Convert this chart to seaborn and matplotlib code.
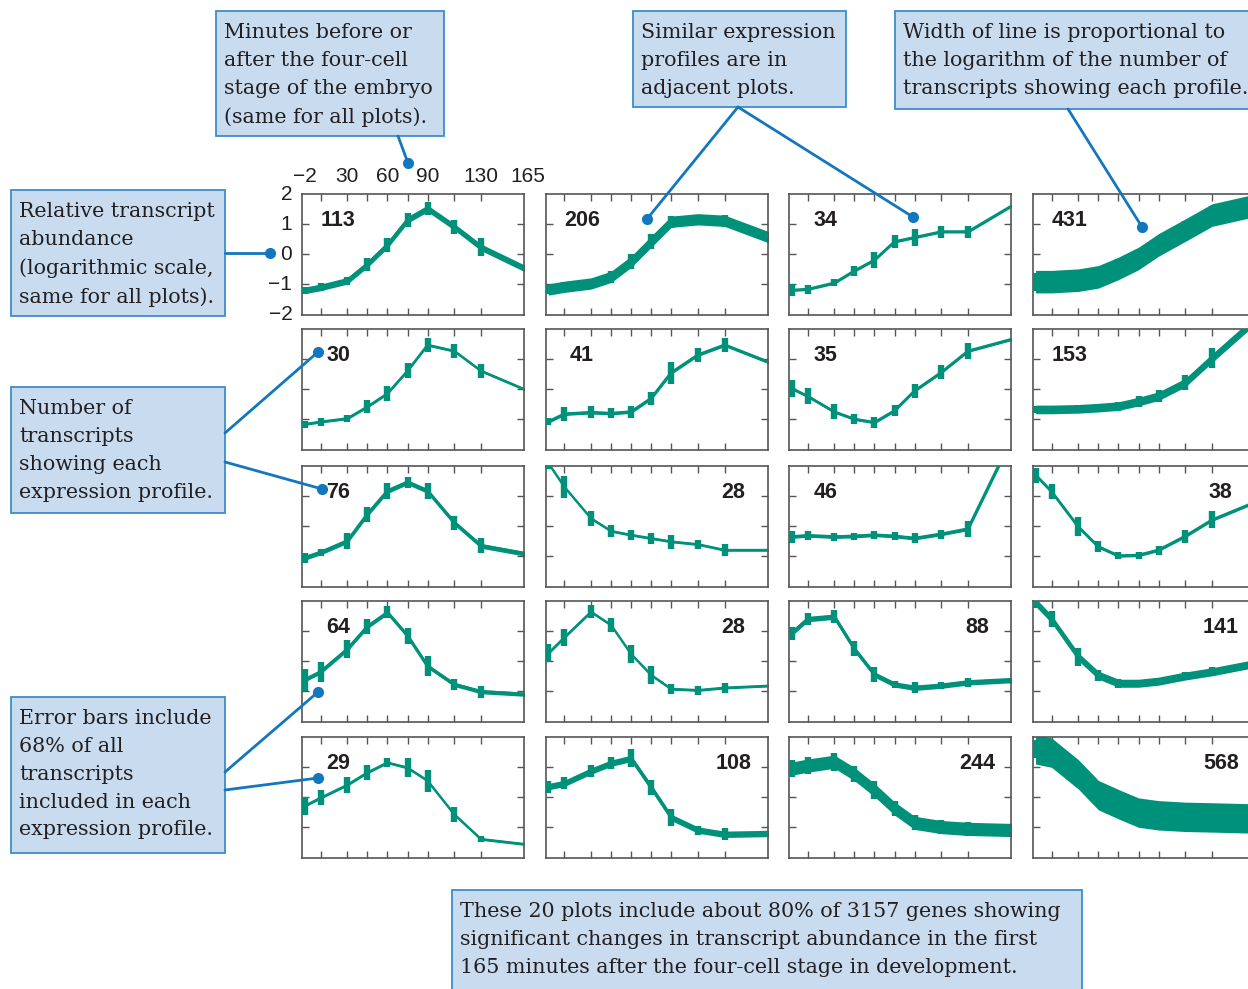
import matplotlib.pyplot as plt
import numpy as np
import pandas as pd
import seaborn as sns
from matplotlib.lines import Line2D
from matplotlib.patches import Rectangle
from matplotlib.transforms import blended_transform_factory

sns.set_theme(style="ticks")
plt.rcParams["font.family"] = ["Liberation Sans", "DejaVu Sans"]

teal = "#00917B"
box_fill = "#C8DBEF"
box_edge = "#3C8DCB"
pointer = "#1277BF"
ink = "#231F20"
frame = "#555555"
W, H = 1248, 989

# time axis (minutes relative to the four-cell stage)
minutes = [-2, 10, 30, 45, 60, 75, 90, 110, 130, 165]
inner_ticks = [10, 30, 45, 60, 75, 90, 110, 130]
top_ticks = [-2, 30, 60, 90, 130, 165]
top_labels = ["\u22122", "30", "60", "90", "130", "165"]
y_ticks = [2, 1, 0, -1, -2]
y_labels = ["2", "1", "0", "\u22121", "\u22122"]

# mean profile (log scale) and half error bar for each of the 20 clusters
p113 = [-1.20, -1.10, -0.88, -0.33, 0.31, 1.14, 1.52, 0.91, 0.23, -0.52]
e113 = [0.12, 0.13, 0.14, 0.22, 0.24, 0.22, 0.22, 0.23, 0.30, 0.30]
p206 = [-1.17, -1.08, -0.97, -0.75, -0.25, 0.42, 1.08, 1.16, 1.11, 0.53]
e206 = [0.15, 0.15, 0.15, 0.20, 0.25, 0.25, 0.20, 0.15, 0.20, 0.25]
p34 = [-1.19, -1.16, -0.95, -0.55, -0.19, 0.42, 0.56, 0.75, 0.75, 1.67]
e34 = [0.20, 0.15, 0.12, 0.17, 0.25, 0.22, 0.27, 0.20, 0.20, 0.25]
p431 = [-0.91, -0.91, -0.86, -0.75, -0.47, -0.14, 0.31, 0.80, 1.30, 1.65]
e431 = [0.30, 0.30, 0.30, 0.30, 0.30, 0.30, 0.30, 0.30, 0.30, 0.30]

p30 = [-1.16, -1.08, -0.97, -0.58, -0.14, 0.61, 1.47, 1.27, 0.61, -0.05]
e30 = [0.12, 0.13, 0.11, 0.22, 0.26, 0.25, 0.22, 0.22, 0.24, 0.33]
p41 = [-1.08, -0.82, -0.77, -0.80, -0.75, -0.30, 0.55, 1.14, 1.47, 0.86]
e41 = [0.12, 0.22, 0.20, 0.17, 0.20, 0.22, 0.36, 0.24, 0.22, 0.26]
p35 = [0.03, -0.23, -0.75, -0.99, -1.10, -0.71, -0.05, 0.56, 1.27, 1.69]
e35 = [0.28, 0.26, 0.25, 0.17, 0.17, 0.19, 0.24, 0.23, 0.25, 0.25]
p153 = [-0.67, -0.67, -0.65, -0.61, -0.56, -0.41, -0.23, 0.22, 1.03, 2.40]
e153 = [0.13, 0.13, 0.13, 0.13, 0.15, 0.17, 0.20, 0.25, 0.33, 0.30]

p76 = [-1.05, -0.87, -0.49, 0.40, 1.17, 1.46, 1.17, 0.12, -0.65, -0.93]
e76 = [0.17, 0.12, 0.26, 0.25, 0.26, 0.18, 0.28, 0.23, 0.25, 0.15]
p28a = [2.10, 1.31, 0.26, -0.16, -0.29, -0.40, -0.51, -0.60, -0.79, -0.79]
e28a = [0.20, 0.37, 0.26, 0.20, 0.18, 0.18, 0.23, 0.15, 0.20, 0.20]
p46 = [-0.35, -0.31, -0.35, -0.33, -0.29, -0.33, -0.40, -0.26, -0.09, 3.10]
e46 = [0.20, 0.15, 0.13, 0.12, 0.13, 0.13, 0.17, 0.15, 0.28, 0.20]
p38 = [1.70, 1.15, -0.02, -0.68, -0.98, -0.96, -0.79, -0.33, 0.21, 0.85]
e38 = [0.25, 0.26, 0.32, 0.19, 0.12, 0.12, 0.15, 0.22, 0.28, 0.20]

p64 = [-0.62, -0.35, 0.40, 1.15, 1.62, 0.85, -0.16, -0.77, -1.01, -1.10]
e64 = [0.36, 0.33, 0.29, 0.25, 0.20, 0.27, 0.33, 0.17, 0.20, 0.24]
p28b = [0.26, 0.79, 1.64, 1.20, 0.24, -0.46, -0.92, -0.96, -0.88, -0.81]
e28b = [0.30, 0.27, 0.22, 0.22, 0.30, 0.29, 0.18, 0.15, 0.17, 0.20]
p88 = [0.93, 1.40, 1.48, 0.41, -0.44, -0.77, -0.88, -0.81, -0.70, -0.62]
e88 = [0.22, 0.20, 0.22, 0.25, 0.25, 0.13, 0.18, 0.12, 0.15, 0.25]
p141 = [1.96, 1.40, 0.15, -0.46, -0.73, -0.73, -0.66, -0.49, -0.35, -0.05]
e141 = [0.20, 0.26, 0.30, 0.18, 0.15, 0.12, 0.12, 0.13, 0.15, 0.15]

p29 = [-0.29, -0.02, 0.41, 0.82, 1.15, 0.98, 0.55, -0.57, -1.39, -1.57]
e29 = [0.30, 0.25, 0.27, 0.25, 0.15, 0.32, 0.36, 0.24, 0.10, 0.10]
p108 = [0.35, 0.46, 0.87, 1.13, 1.29, 0.33, -0.67, -1.09, -1.23, -1.20]
e108 = [0.20, 0.20, 0.20, 0.20, 0.30, 0.25, 0.29, 0.15, 0.20, 0.20]
p244 = [0.95, 1.05, 1.18, 0.77, 0.24, -0.37, -0.85, -0.99, -1.05, -1.09]
e244 = [0.28, 0.28, 0.30, 0.28, 0.30, 0.25, 0.25, 0.22, 0.22, 0.22]
p568 = [1.59, 1.48, 0.76, 0.07, -0.23, -0.51, -0.60, -0.65, -0.67, -0.71]
e568 = [0.30, 0.30, 0.30, 0.30, 0.30, 0.30, 0.30, 0.30, 0.30, 0.30]

counts = [[113, 206, 34, 431], [30, 41, 35, 153], [76, 28, 46, 38],
          [64, 28, 88, 141], [29, 108, 244, 568]]
profiles = [[p113, p206, p34, p431], [p30, p41, p35, p153], [p76, p28a, p46, p38],
            [p64, p28b, p88, p141], [p29, p108, p244, p568]]
errors = [[e113, e206, e34, e431], [e30, e41, e35, e153], [e76, e28a, e46, e38],
          [e64, e28b, e88, e141], [e29, e108, e244, e568]]
label_side = [["l", "l", "l", "l"], ["l", "l", "l", "l"], ["l", "r", "l", "r"],
              ["l", "r", "r", "r"], ["l", "r", "r", "r"]]

col_left = [302.3, 546, 789.3, 1033.3]
row_top = [194, 329, 466, 601, 737]
panel_w, panel_h = 221.5, 120.5
ppu = panel_h / 4  # pixels per log unit


def fx(x):
    return x / W


def fy(y):
    return 1 - y / H


def draw_panel(ax, values, errs, n, side):
    values = np.asarray(values)
    width_px = 1.0 + 0.05 * n
    half = width_px / 2 / ppu
    ax.fill_between(minutes, values - half, values + half, color=teal, lw=0, zorder=2)
    df = pd.DataFrame({"minute": minutes, "value": values})
    sns.lineplot(data=df, x="minute", y="value", ax=ax, color=teal,
                 lw=min(width_px, 3.2) * 0.72, solid_joinstyle="round", zorder=3)
    ax.errorbar(minutes, values, yerr=errs, fmt="none", ecolor=teal,
                elinewidth=4.6, capsize=0, zorder=4)
    ax.set_xlim(-3.7, 162)
    ax.set_ylim(-2, 2)
    ax.set_xticks(inner_ticks)
    ax.set_yticks([-1, 0, 1])
    ax.tick_params(direction="in", top=True, right=True, length=5, width=1,
                   color=frame, labelbottom=False, labelleft=False)
    ax.set_xlabel("")
    ax.set_ylabel("")
    for sp in ax.spines.values():
        sp.set_color(frame)
        sp.set_linewidth(1.2)
    xpos = 36 / panel_w if side == "l" else 1 - 34 / panel_w
    ax.text(xpos, 1 - 32 / panel_h, str(n), transform=ax.transAxes,
            ha="center", va="baseline", fontsize=15.5, weight="bold", color=ink)


fig = plt.figure(figsize=(W / 100, H / 100), dpi=100, facecolor="white")

for r, top in enumerate(row_top):
    for c, left in enumerate(col_left):
        ax = fig.add_axes([fx(left), fy(top + panel_h), panel_w / W, panel_h / H])
        draw_panel(ax, profiles[r][c], errors[r][c], counts[r][c], label_side[r][c])
        if r == 0 and c == 0:
            tr = blended_transform_factory(ax.transData, ax.transAxes)
            for t, lab in zip(top_ticks, top_labels):
                ax.text(t, 1 + 18 / panel_h, lab, transform=tr, ha="center", va="center",
                        fontsize=15, color=ink, clip_on=False)
            for t, lab in zip(y_ticks, y_labels):
                ax.text(-10 / panel_w, (t + 2) / 4, lab, transform=ax.transAxes,
                        ha="right", va="center", fontsize=15, color=ink, clip_on=False)

# annotation boxes (pixel boxes: x0, y0, x1, y1)
notes = [
    ((216, 11, 444, 136), "Minutes before or\nafter the four-cell\nstage of the embryo\n(same for all plots)."),
    ((633, 11, 846, 107), "Similar expression\nprofiles are in\nadjacent plots."),
    ((895, 11, 1254, 109), "Width of line is proportional to\nthe logarithm of the number of\ntranscripts showing each profile."),
    ((11, 190, 225, 316), "Relative transcript\nabundance\n(logarithmic scale,\nsame for all plots)."),
    ((11, 387, 225, 513), "Number of\ntranscripts\nshowing each\nexpression profile."),
    ((11, 697, 225, 853), "Error bars include\n68% of all\ntranscripts\nincluded in each\nexpression profile."),
    ((452, 890, 1082, 995), "These 20 plots include about 80% of 3157 genes showing\nsignificant changes in transcript abundance in the first\n165 minutes after the four-cell stage in development."),
]
for (x0, y0, x1, y1), txt in notes:
    fig.add_artist(Rectangle((fx(x0), fy(y1)), (x1 - x0) / W, (y1 - y0) / H,
                             transform=fig.transFigure, facecolor=box_fill,
                             edgecolor=box_edge, lw=1.3, zorder=5))
    fig.text(fx(x0 + 8), fy(y0 + 12), txt, ha="left", va="top", fontsize=14.9,
             family=["DejaVu Serif"], color=ink, linespacing=1.59, zorder=6)

# pointer lines ending in a dot
pointers = [
    ((398, 136), (408, 163)),
    ((738, 107), (647, 219)),
    ((738, 107), (913, 217)),
    ((1068, 109), (1142, 227)),
    ((225, 253), (270, 253)),
    ((225, 433), (318, 352)),
    ((225, 462), (322, 489)),
    ((225, 772), (318, 692)),
    ((225, 790), (318, 778)),
]
for (xa, ya), (xb, yb) in pointers:
    fig.add_artist(Line2D([fx(xa), fx(xb)], [fy(ya), fy(yb)], transform=fig.transFigure,
                          color=pointer, lw=2, marker="o", markevery=[1],
                          markersize=7, zorder=7))

fig.savefig("out.png", dpi=100, facecolor="white")
plt.close(fig)
